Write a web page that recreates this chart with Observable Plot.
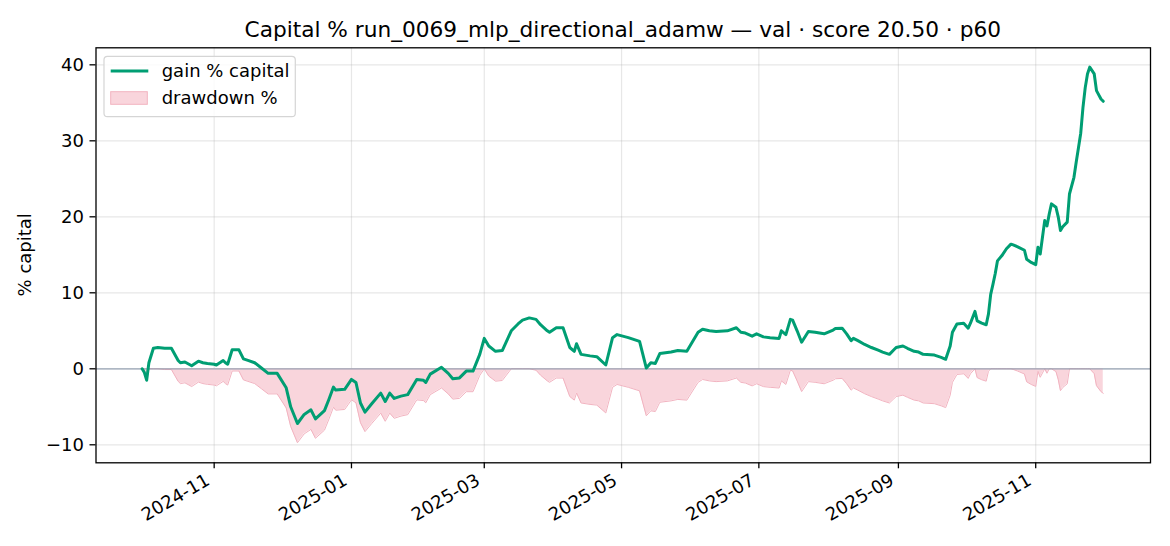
<!DOCTYPE html>
<html><head><meta charset="utf-8">
<script src="https://cdn.jsdelivr.net/npm/d3@7"></script>
<script src="https://cdn.jsdelivr.net/npm/@observablehq/plot@0.6"></script>
<style>
body{margin:0;background:#fff;font-family:"DejaVu Sans",sans-serif;}
#wrap{position:relative;width:1170px;height:546px;overflow:hidden;}
#overlay{position:absolute;left:0;top:0;pointer-events:none;font-family:"DejaVu Sans",sans-serif;}
</style></head>
<body><div id="wrap"><div id="chart"></div>
<svg id="overlay" width="1170" height="546"></svg></div>
<script>
const titleText = "Capital % run_0069_mlp_directional_adamw — val · score 20.50 · p60";
const yLabel = "% capital";
const seriesNames = ["gain % capital", "drawdown %"];
const xTickMonths = ["2024-11","2025-01","2025-03","2025-05","2025-07","2025-09","2025-11"];
const yTicks = [-10, 0, 10, 20, 30, 40];

const dates = [
"2024-09-30","2024-10-01","2024-10-02","2024-10-03","2024-10-05","2024-10-07","2024-10-10","2024-10-13","2024-10-16","2024-10-17",
"2024-10-19","2024-10-22","2024-10-25","2024-10-27","2024-10-29","2024-11-01","2024-11-02","2024-11-05","2024-11-06","2024-11-07",
"2024-11-09","2024-11-12","2024-11-14","2024-11-16","2024-11-19","2024-11-22","2024-11-25","2024-11-29","2024-12-03","2024-12-05",
"2024-12-08","2024-12-11","2024-12-14","2024-12-16","2024-12-20","2024-12-22","2024-12-24","2024-12-25","2024-12-29","2025-01-01",
"2025-01-03","2025-01-05","2025-01-07","2025-01-10","2025-01-14","2025-01-16","2025-01-18","2025-01-20","2025-01-23","2025-01-26",
"2025-01-30","2025-02-02","2025-02-03","2025-02-05","2025-02-10","2025-02-13","2025-02-15","2025-02-18","2025-02-21","2025-02-24",
"2025-02-27","2025-03-01","2025-03-03","2025-03-06","2025-03-09","2025-03-13","2025-03-16","2025-03-18","2025-03-21","2025-03-24",
"2025-03-26","2025-03-29","2025-03-30","2025-04-02","2025-04-05","2025-04-08","2025-04-10","2025-04-11","2025-04-13","2025-04-17",
"2025-04-20","2025-04-24","2025-04-27","2025-04-29","2025-05-04","2025-05-09","2025-05-12","2025-05-14","2025-05-16","2025-05-18",
"2025-05-23","2025-05-26","2025-05-30","2025-06-04","2025-06-06","2025-06-09","2025-06-12","2025-06-17","2025-06-21","2025-06-23",
"2025-06-25","2025-06-28","2025-06-30","2025-07-03","2025-07-06","2025-07-10","2025-07-11","2025-07-13","2025-07-15","2025-07-16",
"2025-07-18","2025-07-20","2025-07-23","2025-07-26","2025-07-30","2025-08-03","2025-08-04","2025-08-07","2025-08-09","2025-08-11",
"2025-08-12","2025-08-14","2025-08-17","2025-08-20","2025-08-23","2025-08-25","2025-08-28","2025-08-30","2025-08-31","2025-09-03",
"2025-09-05","2025-09-08","2025-09-10","2025-09-12","2025-09-17","2025-09-20","2025-09-22","2025-09-24","2025-09-25","2025-09-27",
"2025-09-30","2025-10-02","2025-10-03","2025-10-05","2025-10-06","2025-10-08","2025-10-10","2025-10-11","2025-10-12","2025-10-13",
"2025-10-14","2025-10-15","2025-10-17","2025-10-19","2025-10-21","2025-10-22","2025-10-24","2025-10-27","2025-10-28","2025-10-30",
"2025-11-01","2025-11-02","2025-11-03","2025-11-05","2025-11-06","2025-11-07","2025-11-08","2025-11-10","2025-11-11","2025-11-12",
"2025-11-13","2025-11-15","2025-11-16","2025-11-18","2025-11-19","2025-11-20","2025-11-21","2025-11-22","2025-11-23","2025-11-24",
"2025-11-25","2025-11-27","2025-11-28","2025-11-30","2025-12-01"
];
const gainPct = [
0.0,-0.5,-1.5,0.8,2.7,2.8,2.7,2.7,1.1,0.8,
0.9,0.4,1.0,0.8,0.7,0.6,0.5,1.1,0.8,0.6,
2.5,2.5,1.3,1.1,0.8,0.1,-0.6,-0.6,-2.5,-5.0,
-7.2,-6.0,-5.4,-6.6,-5.5,-4.0,-2.4,-2.8,-2.7,-1.4,
-1.8,-4.5,-5.7,-4.6,-3.2,-4.3,-3.2,-3.9,-3.6,-3.4,
-1.4,-1.5,-1.8,-0.7,0.2,-0.6,-1.3,-1.2,-0.3,-0.3,
1.9,4.0,3.0,2.3,2.4,5.0,5.9,6.4,6.7,6.5,
5.8,5.0,4.8,5.4,5.4,2.8,2.3,3.3,1.9,1.7,
1.6,0.5,4.1,4.5,4.1,3.6,0.1,0.8,0.7,2.0,
2.2,2.4,2.3,4.8,5.2,5.0,4.9,5.0,5.4,4.8,
4.7,4.3,4.6,4.2,4.1,4.0,5.0,4.5,6.5,6.4,
5.0,3.5,4.9,4.8,4.6,5.1,5.3,5.35,4.6,3.7,
4.0,3.7,3.2,2.8,2.45,2.2,1.9,2.5,2.8,3.0,
2.7,2.3,2.2,1.9,1.8,1.5,1.25,3.0,4.8,5.9,
6.0,5.35,6.0,7.55,6.3,6.0,5.8,7.2,9.8,11.1,
12.5,14.2,14.9,15.8,16.4,16.3,16.05,15.6,14.4,14.0,
13.7,16.0,15.1,19.5,18.8,20.35,21.7,21.25,20.0,18.2,
18.7,19.3,23.0,25.2,27.2,29.1,31.0,34.4,37.0,38.8,
39.7,38.8,36.6,35.5,35.2
];

const green = "#009E73";
const ddFill = "#f9d5dc";
const ddEdge = "#f2b3c0";

// drawdown from running peak of capital
let peak = 0;
const rows = dates.map((d, i) => {
  const g = gainPct[i];
  peak = Math.max(peak, g);
  return {date: new Date(d + "T00:00:00Z"), gain: g, dd: ((1 + g / 100) / (1 + peak / 100) - 1) * 100};
});
const xTicks = xTickMonths.map(m => new Date(m + "-01T00:00:00Z"));
const fmtY = d => d < 0 ? "\u2212" + Math.abs(d) : String(d);

const chart = Plot.plot({
  width: 1170, height: 546,
  marginLeft: 95.5, marginRight: 20, marginTop: 47.3, marginBottom: 83.7,
  style: {fontFamily: "DejaVu Sans", fontSize: "18px", background: "white", color: "black"},
  x: {type: "utc", domain: [new Date("2024-09-09T12:00:00Z"), new Date("2025-12-22T00:00:00Z")]},
  y: {domain: [-12.37, 42.24]},
  marks: [
    Plot.gridX(xTicks, {stroke: "#b0b0b0", strokeOpacity: 0.3, strokeWidth: 1.2}),
    Plot.gridY(yTicks, {stroke: "#b0b0b0", strokeOpacity: 0.3, strokeWidth: 1.2}),
    Plot.areaY(rows, {x: "date", y1: 0, y2: "dd", fill: ddFill, curve: "linear"}),
    Plot.lineY(rows, {x: "date", y: "dd", stroke: ddEdge, strokeWidth: 1}),
    Plot.ruleY([0], {stroke: "#8a97aa", strokeOpacity: 0.85, strokeWidth: 1.3}),
    Plot.lineY(rows, {x: "date", y: "gain", stroke: green, strokeWidth: 3, strokeLinejoin: "round"}),
    Plot.frame({stroke: "black", strokeWidth: 1.3}),
    Plot.axisX(xTicks, {tickFormat: () => "", tickSize: 6, label: null, strokeWidth: 1.3}),
    Plot.axisX(xTicks, {tickFormat: d3.utcFormat("%Y-%m"), tickRotate: -30, tickSize: 0, tickPadding: 16, fontSize: 18, label: null, dx: -6}),
    Plot.axisY(yTicks, {tickFormat: fmtY, tickSize: 6, tickPadding: 6, fontSize: 18, label: null, strokeWidth: 1.3})
  ]
});
document.getElementById("chart").appendChild(chart);

// title, axis label and legend
const ov = d3.select("#overlay");
ov.append("text").attr("x", 622.75).attr("y", 36.5).attr("text-anchor", "middle")
  .attr("font-size", 21.67).text(titleText);
ov.append("text").attr("transform", "translate(30.5,254.8) rotate(-90)").attr("text-anchor", "middle")
  .attr("font-size", 18).text(yLabel);
const lg = ov.append("g");
lg.append("rect").attr("x", 104).attr("y", 56.3).attr("width", 191.3).attr("height", 60.4).attr("rx", 3.5)
  .attr("fill", "white").attr("fill-opacity", 0.8).attr("stroke", "#d5d5d5").attr("stroke-width", 1.2);
lg.append("line").attr("x1", 110.7).attr("x2", 148.3).attr("y1", 71).attr("y2", 71)
  .attr("stroke", green).attr("stroke-width", 3);
lg.append("rect").attr("x", 110.7).attr("y", 91.7).attr("width", 36.6).attr("height", 12.6)
  .attr("fill", ddFill).attr("stroke", ddEdge).attr("stroke-width", 1);
lg.append("text").attr("x", 161.7).attr("y", 77).attr("font-size", 18).text(seriesNames[0]);
lg.append("text").attr("x", 161.7).attr("y", 104.4).attr("font-size", 18).text(seriesNames[1]);
</script></body></html>
